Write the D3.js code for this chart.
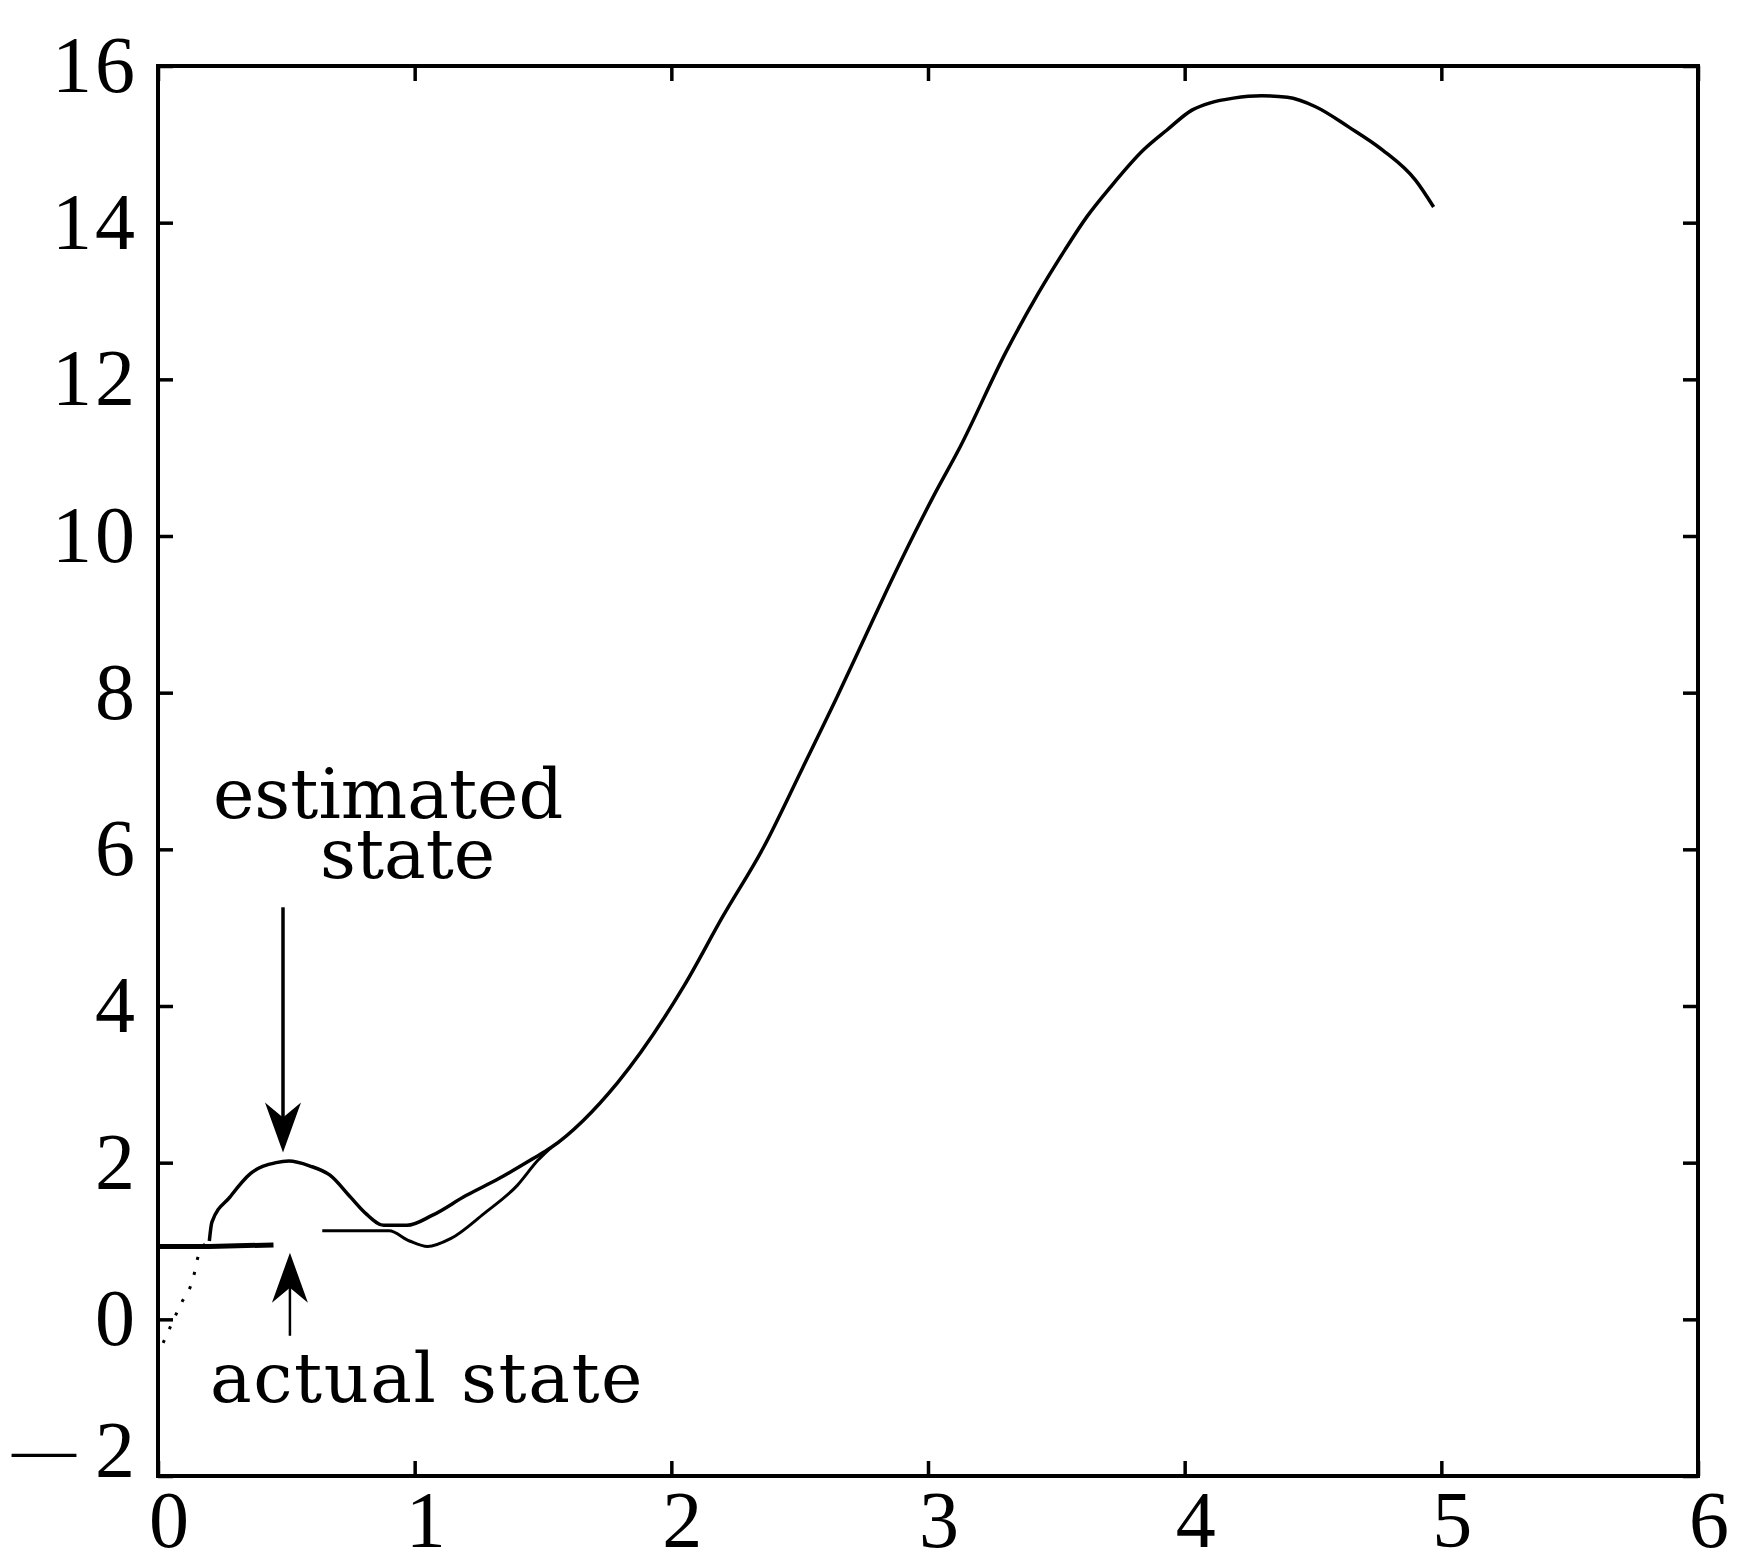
<!DOCTYPE html>
<html>
<head>
<meta charset="utf-8">
<script src="https://d3js.org/d3.v7.min.js"></script>
<style>
  body { margin: 0; background: #fff; }
  .tickText { font-family: "Liberation Serif", "Times New Roman", serif; font-size: 80px; fill: #000; letter-spacing: 3px; }
  .aText { font-family: "DejaVu Serif", serif; font-size: 70px; fill: #000; }
  .aText.wide { letter-spacing: 1.5px; }
</style>
</head>
<body>
<div id="chart"></div>
<script>
var w = 1741;
var h = 1565;

// estimated state (starts at 0, overshoots, then follows the actual state)
var estX = [0.02, 0.09, 0.135, 0.16, 0.2, 0.21, 0.28, 0.36, 0.46, 0.51, 0.59, 0.67, 0.75, 0.81, 0.88, 0.97, 1.07, 1.2, 1.33, 1.46, 1.53, 1.79, 2.05, 2.2, 2.36, 2.51, 2.645, 2.76, 2.84, 2.95, 3.02, 3.124, 3.307, 3.43, 3.533, 3.62, 3.71, 3.84, 3.93, 4.03, 4.1, 4.19, 4.3, 4.4, 4.51, 4.64, 4.77, 4.9, 4.97];
var estY = [-0.3, 0.2, 0.5, 0.84, 1.0, 1.24, 1.56, 1.86, 2.0, 2.02, 1.96, 1.84, 1.56, 1.35, 1.2, 1.2, 1.33, 1.58, 1.8, 2.05, 2.19, 3.02, 4.26, 5.14, 6.03, 7.03, 7.94, 8.75, 9.31, 10.05, 10.5, 11.13, 12.37, 13.1, 13.65, 14.08, 14.45, 14.93, 15.18, 15.44, 15.53, 15.59, 15.62, 15.6, 15.48, 15.22, 14.93, 14.54, 14.2];
var estDotted = 5;

// actual state: thick start, small gap, then thin line joining the estimate
var actX = [0, 0.2, 0.45, 0.64, 0.9, 0.98, 1.05, 1.14, 1.27, 1.4, 1.48, 1.53];
var actY = [0.93, 0.93, 0.95, 1.13, 1.13, 1.0, 0.93, 1.03, 1.35, 1.71, 2.03, 2.19];
var actThick = 3;

var xTicks = [0, 1, 2, 3, 4, 5, 6];
var yTicks = [-2, 0, 2, 4, 6, 8, 10, 12, 14, 16];

var padLeft = 158, padRight = 1698, padTop = 66, padBottom = 1476;

var svg = d3
  .select("#chart")
  .append("svg")
  .attr("width", w)
  .attr("height", h);

svg.append("rect").attr("width", w).attr("height", h).attr("fill", "#fff");

var xScale = d3.scaleLinear().domain([0, 6]).range([padLeft, padRight]);
var yScale = d3.scaleLinear().domain([-2, 16]).range([padBottom, padTop]);

var xAxis = d3.axisBottom(xScale).tickValues(xTicks).tickSize(-15).tickPadding(14).tickFormat(d3.format("d"));
var yAxis = d3.axisLeft(yScale).tickValues(yTicks).tickSize(-15).tickPadding(20).tickFormat(d3.format("d"));
var xTop = d3.axisTop(xScale).tickValues(xTicks).tickSize(-15).tickFormat("");
var yRight = d3.axisRight(yScale).tickValues(yTicks).tickSize(-15).tickFormat("");

function styleAxis(g) {
  g.attr("font-family", null).attr("font-size", null);
  g.select(".domain").remove();
  g.selectAll("line").attr("stroke", "#000").attr("stroke-width", 3.5);
  g.selectAll("text").attr("class", "tickText");
}

svg.append("g")
  .attr("class", "xAxis")
  .attr("transform", "translate(0," + padBottom + ")")
  .call(xAxis)
  .call(styleAxis);
svg.selectAll(".xAxis text").attr("dx", 12);

svg.append("g")
  .attr("class", "yAxis")
  .attr("transform", "translate(" + padLeft + ",0)")
  .call(yAxis)
  .call(styleAxis);

// the negative label has a long, detached minus sign
svg.selectAll(".yAxis text")
  .filter(function(d) { return d < 0; })
  .each(function(d) {
    var t = d3.select(this).text("");
    t.append("tspan").attr("font-size", "64px").attr("dy", "-0.1em").text("\u2014");
    t.append("tspan").attr("dx", 16).attr("dy", "0.08em").text(-d);
  });

svg.append("g")
  .attr("transform", "translate(0," + padTop + ")")
  .call(xTop)
  .call(styleAxis);

svg.append("g")
  .attr("transform", "translate(" + padRight + ",0)")
  .call(yRight)
  .call(styleAxis);

// frame
svg.append("rect")
  .attr("x", padLeft)
  .attr("y", padTop)
  .attr("width", padRight - padLeft)
  .attr("height", padBottom - padTop)
  .attr("fill", "none")
  .attr("stroke", "#000")
  .attr("stroke-width", 4);

var est = estX.map(function(x, i) { return [x, estY[i]]; });
var act = actX.map(function(x, i) { return [x, actY[i]]; });

var line = d3.line()
  .x(function(d) { return xScale(d[0]); })
  .y(function(d) { return yScale(d[1]); })
  .curve(d3.curveMonotoneX);

var straight = d3.line()
  .x(function(d) { return xScale(d[0]); })
  .y(function(d) { return yScale(d[1]); });

svg.append("path")
  .attr("d", line(est.slice(0, estDotted)))
  .attr("fill", "none")
  .attr("stroke", "#000")
  .attr("stroke-width", 3)
  .attr("stroke-dasharray", "3,12");

svg.append("path")
  .attr("d", line(est.slice(estDotted - 1)))
  .attr("fill", "none")
  .attr("stroke", "#000")
  .attr("stroke-width", 3.5);

svg.append("path")
  .attr("d", straight(act.slice(0, actThick)))
  .attr("fill", "none")
  .attr("stroke", "#000")
  .attr("stroke-width", 5);

svg.append("path")
  .attr("d", line(act.slice(actThick)))
  .attr("fill", "none")
  .attr("stroke", "#000")
  .attr("stroke-width", 3);

// annotations
var notes = [
  { text: "estimated", x: 0.214, y: 6.4, cls: "" },
  { text: "state", x: 0.631, y: 5.64, cls: "" },
  { text: "actual state", x: 0.203, y: -1.06, cls: " wide" }
];

svg.selectAll(".aText")
  .data(notes)
  .enter()
  .append("text")
  .attr("class", function(d) { return "aText" + d.cls; })
  .attr("x", function(d) { return xScale(d.x); })
  .attr("y", function(d) { return yScale(d.y); })
  .text(function(d) { return d.text; });

var arrows = [
  { x: 0.487, from: 5.26, to: 2.13, sw: 3.5 },
  { x: 0.514, from: -0.21, to: 0.85, sw: 2.5 }
];

arrows.forEach(function(a) {
  var x = xScale(a.x);
  var y0 = yScale(a.from);
  var y1 = yScale(a.to);
  var dir = y1 > y0 ? 1 : -1;
  var headLen = 50;
  svg.append("line")
    .attr("x1", x).attr("x2", x)
    .attr("y1", y0).attr("y2", y1 - dir * headLen * 0.6)
    .attr("stroke", "#000")
    .attr("stroke-width", a.sw);
  svg.append("path")
    .attr("d", "M" + x + "," + y1 +
      "L" + (x - 18) + "," + (y1 - dir * headLen) +
      "L" + x + "," + (y1 - dir * headLen * 0.7) +
      "L" + (x + 18) + "," + (y1 - dir * headLen) + "Z")
    .attr("fill", "#000");
});
</script>
</body>
</html>
